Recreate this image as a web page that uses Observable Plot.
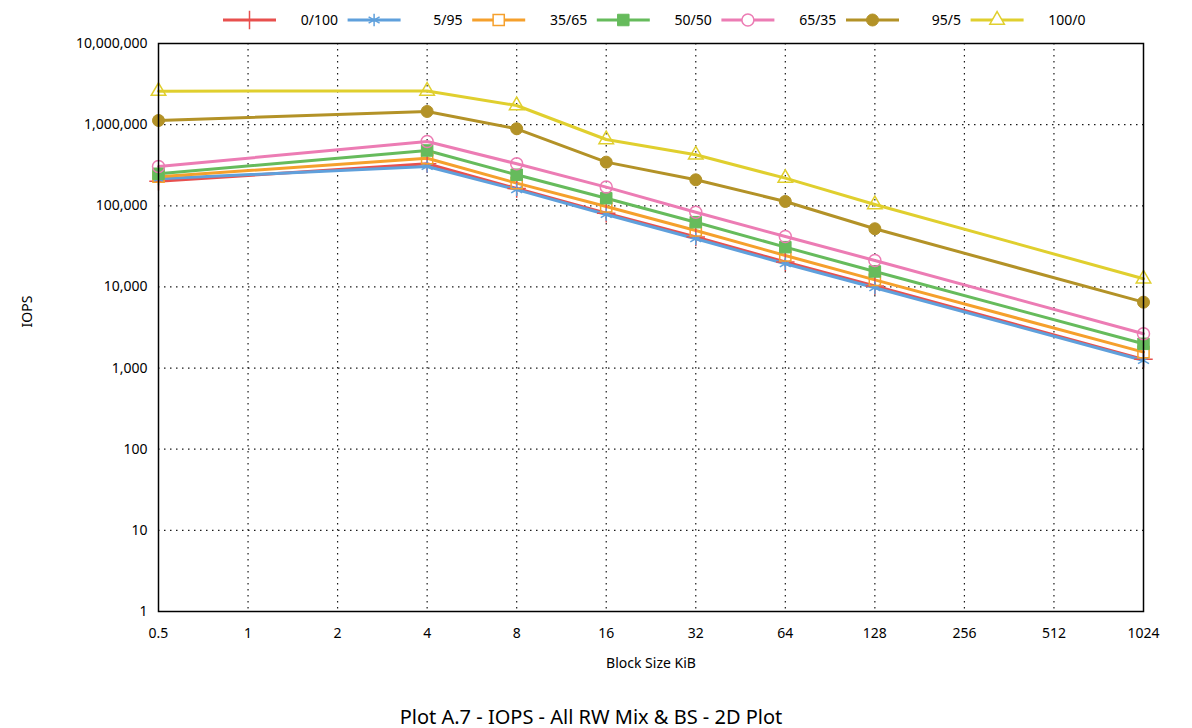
<!DOCTYPE html>
<html><head><meta charset="utf-8">
<script src="https://cdn.jsdelivr.net/npm/d3@7"></script>
<script src="https://cdn.jsdelivr.net/npm/@observablehq/plot@0.6"></script>
<style>
body{margin:0;background:#fff;font-family:"Noto Sans",sans-serif;}
#chart svg{display:block;overflow:visible}
#title{text-align:center;font-size:20px;line-height:26px;padding-top:26px;color:#000;margin-left:-10px}
</style></head><body>
<div id="chart"></div>
<div id="title">Plot A.7 - IOPS - All RW Mix &amp; BS - 2D Plot</div>
<script>
const blockSizes = [0.5, 4, 8, 16, 32, 64, 128, 1024];
const xTicks = [0.5, 1, 2, 4, 8, 16, 32, 64, 128, 256, 512, 1024];
const yTicks = [1, 10, 100, 1000, 10000, 100000, 1000000, 10000000];
const seriesNames = ["0/100", "5/95", "35/65", "50/50", "65/35", "95/5", "100/0"];
const seriesColors = ["#e8504e", "#5fa0dc", "#f5a02c", "#66bb5c", "#ec7cb4", "#b39227", "#e0cf2e"];
const iops_0_100  = [201000, 329000, 163000, 81000, 41300, 20300, 10300, 1280];
const iops_5_95   = [215000, 305000, 158000, 78100, 39200, 19300, 9760, 1240];
const iops_35_65  = [228000, 386000, 190000, 98000, 49600, 24400, 12200, 1570];
const iops_50_50  = [248000, 480000, 241000, 124000, 62800, 30900, 15500, 1990];
const iops_65_35  = [305000, 620000, 329000, 170000, 83400, 41800, 21200, 2650];
const iops_95_5   = [1125000, 1453000, 889000, 345000, 209000, 113000, 52100, 6490];
const iops_100_0  = [2585000, 2600000, 1722000, 656000, 425000, 219000, 103800, 12600];

const seriesValues = [iops_0_100, iops_5_95, iops_35_65, iops_50_50, iops_65_35, iops_95_5, iops_100_0];
const markerStyles = [
  {symbol: "plus", fill: "none", r: 6, sw: 1.5},
  {symbol: "asterisk", fill: "none", r: 6, sw: 1.5},
  {symbol: "square", fill: "none", r: 6.3, sw: 1.5},
  {symbol: "square", fill: true, r: 6.5, sw: 1},
  {symbol: "circle", fill: "none", r: 6, sw: 1.5},
  {symbol: "circle", fill: true, r: 6, sw: 1},
  {symbol: "triangle", fill: "none", r: 5.4, sw: 1.5}
];

const rows = [];
seriesNames.forEach((s, i) => blockSizes.forEach((b, j) => rows.push({series: s, bs: b, iops: seriesValues[i][j]})));

// Legend (above the plot)
const legendH = 28;
const leg = d3.create("svg").attr("width", 1192).attr("height", legendH)
  .attr("font-family", "Noto Sans").attr("font-size", 14);
const symMap = {plus: d3.symbolPlus, asterisk: d3.symbolAsterisk, square: d3.symbolSquare, circle: d3.symbolCircle, triangle: d3.symbolTriangle};
seriesNames.forEach((s, i) => {
  const x0 = 223 + 124.6 * i, y = 20, c = seriesColors[i], m = markerStyles[i];
  leg.append("line").attr("x1", x0).attr("x2", x0 + 53).attr("y1", y).attr("y2", y)
    .attr("stroke", c).attr("stroke-width", 3);
  leg.append("path").attr("transform", `translate(${x0 + 26.5},${y})`)
    .attr("d", d3.symbol(symMap[m.symbol], Math.PI * m.r * m.r)())
    .attr("fill", m.fill === true ? c : (m.symbol === "plus" || m.symbol === "asterisk" ? "none" : "#fff"))
    .attr("stroke", c).attr("stroke-width", m.sw);
  leg.append("text").attr("x", x0 + 115).attr("y", y).attr("dy", "0.35em")
    .attr("text-anchor", "end").attr("fill", "#000").text(s);
});
document.getElementById("chart").append(leg.node());

const dotMarks = seriesNames.map((s, i) => {
  const m = markerStyles[i], c = seriesColors[i];
  return Plot.dot(rows.filter(d => d.series === s), {
    x: "bs", y: "iops", symbol: () => m.symbol, r: m.r,
    fill: m.fill === true ? c : "none", stroke: c, strokeWidth: m.sw
  });
});

const chart = Plot.plot({
  width: 1192, height: 650,
  marginLeft: 158, marginRight: 49, marginTop: 15, marginBottom: 67,
  style: {fontFamily: "Noto Sans", fontSize: "14px", color: "#000", background: "#fff", overflow: "visible"},
  x: {type: "log", base: 2, domain: [0.5, 1024], ticks: xTicks, tickFormat: d => String(d), tickSize: 0, tickPadding: 17, label: null},
  y: {type: "log", domain: [1, 1e7], ticks: yTicks, tickFormat: d3.format(","), tickSize: 0, tickPadding: 11, label: null},
  color: {domain: seriesNames, range: seriesColors},
  symbol: {domain: ["plus", "asterisk", "square", "circle", "triangle"], range: ["plus", "asterisk", "square", "circle", "triangle"]},
  marks: [
    Plot.ruleX(xTicks.slice(1, -1), {stroke: "#000", strokeOpacity: 0.9, strokeWidth: 1.2, strokeDasharray: "1.5,4.5"}),
    Plot.ruleY(yTicks.slice(1, -1), {stroke: "#000", strokeOpacity: 0.9, strokeWidth: 1.2, strokeDasharray: "1.5,4.5"}),
    Plot.line(rows, {x: "bs", y: "iops", z: "series", stroke: "series", strokeWidth: 3}),
    ...dotMarks,
    Plot.frame({stroke: "#000", strokeWidth: 1.5}),
    Plot.text(["Block Size KiB"], {text: d => d, frameAnchor: "bottom", dy: 56, fontSize: 14}),
    Plot.text(["IOPS"], {text: d => d, frameAnchor: "left", dx: -131, rotate: -90, fontSize: 14})
  ]
});
document.getElementById("chart").append(chart);
</script></body></html>
